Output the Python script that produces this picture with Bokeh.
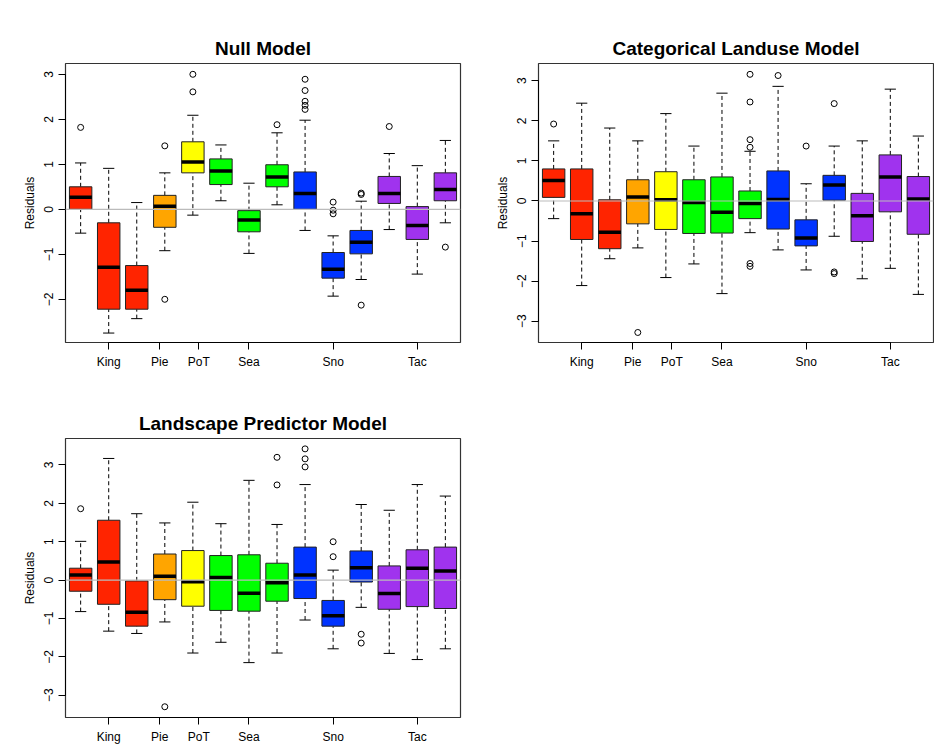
from bokeh.plotting import figure
from bokeh.layouts import gridplot
from bokeh.models import Span, FixedTicker
from bokeh.embed import file_html
from bokeh.resources import INLINE

# box colours, one per box (14 boxes)
box_colors = ["#FF2400"] * 3 + ["#FFA500", "#FFFF00"] + ["#00FF00"] * 3 + ["#0033FF"] * 3 + ["#A033EE"] * 3
tick_pos = [2, 3.82, 5.21, 7, 10, 13]
tick_names = ["King", "Pie", "PoT", "Sea", "Sno", "Tac"]

# Null Model
null_low = [-0.53, -2.75, -2.43, -0.92, -0.13, 0.19, -0.98, 0.10, -0.47, -1.93, -1.56, -0.45, -1.44, -0.30]
null_q1 = [0.00, -2.22, -2.22, -0.40, 0.81, 0.55, -0.50, 0.50, 0.00, -1.53, -0.99, 0.13, -0.67, 0.19]
null_med = [0.27, -1.29, -1.80, 0.07, 1.05, 0.85, -0.24, 0.72, 0.35, -1.33, -0.73, 0.35, -0.36, 0.44]
null_q3 = [0.50, -0.30, -1.25, 0.31, 1.50, 1.12, -0.03, 0.99, 0.83, -0.96, -0.47, 0.73, 0.06, 0.81]
null_high = [1.03, 0.91, 0.15, 0.81, 2.09, 1.43, 0.58, 1.70, 1.98, -0.59, 0.18, 1.24, 0.97, 1.53]
null_out = [[1.82], [], [], [1.41, -2.0], [3.0, 2.61], [], [], [1.88],
            [2.89, 2.64, 2.4, 2.31, 2.22], [0.16, -0.02, -0.1], [0.36, 0.33, -2.13], [1.84], [], [-0.84]]

# Categorical Landuse Model
cat_low = [-0.44, -2.11, -1.44, -1.17, -1.91, -1.57, -2.31, -0.79, -1.22, -1.72, -0.88, -1.94, -1.68, -2.33]
cat_q1 = [0.09, -0.96, -1.19, -0.57, -0.71, -0.81, -0.80, -0.44, -0.70, -1.12, 0.02, -1.01, -0.27, -0.83]
cat_med = [0.51, -0.32, -0.78, 0.10, 0.03, -0.04, -0.28, -0.06, 0.04, -0.92, 0.40, -0.37, 0.60, 0.05]
cat_q3 = [0.80, 0.80, 0.03, 0.53, 0.73, 0.53, 0.60, 0.25, 0.75, -0.47, 0.64, 0.19, 1.15, 0.61]
cat_high = [1.50, 2.44, 1.82, 1.50, 2.18, 1.37, 2.69, 1.24, 2.86, 0.43, 1.37, 1.50, 2.79, 1.62]
cat_out = [[1.92], [], [], [-3.28], [], [], [], [3.16, 2.47, 1.53, 1.34, -1.56, -1.63],
           [3.13], [1.37], [2.43, -1.77, -1.81], [], [], []]

# Landscape Predictor Model
land_low = [-0.82, -1.33, -1.39, -1.09, -1.90, -1.62, -2.15, -1.90, -1.04, -1.79, -0.71, -1.91, -2.07, -1.79]
land_q1 = [-0.29, -0.63, -1.20, -0.51, -0.68, -0.79, -0.81, -0.55, -0.48, -1.20, -0.05, -0.76, -0.69, -0.74]
land_med = [0.13, 0.47, -0.84, 0.10, -0.04, 0.07, -0.34, -0.07, 0.13, -0.93, 0.32, -0.35, 0.31, 0.24]
land_q3 = [0.31, 1.56, -0.02, 0.68, 0.77, 0.64, 0.66, 0.44, 0.86, -0.53, 0.76, 0.37, 0.79, 0.86]
land_high = [1.01, 3.17, 1.73, 1.49, 2.03, 1.47, 2.60, 1.45, 2.49, 0.26, 1.97, 1.82, 2.49, 2.19]
land_out = [[1.86], [], [], [-3.30], [], [], [], [3.20, 2.48], [3.42, 3.16, 2.95], [1.00, 0.61],
            [-1.41, -1.64], [], [], []]

FONT = "Liberation Sans"


def box_panel(title, low, q1, med, q3, high, outs, yr, yticks, left, right, top, bottom, frame_h):
    p = figure(width=left + right + 395, height=top + bottom + frame_h, x_range=(0.46, 14.54), y_range=yr,
               output_backend="svg", toolbar_location=None, title=title,
               min_border_left=left, min_border_right=right, min_border_top=top, min_border_bottom=bottom)
    p.title.align = "center"
    p.title.text_font = FONT
    p.title.text_font_size = "19px"
    p.title.text_font_style = "bold"
    p.title.text_color = "black"
    p.xgrid.visible = False
    p.ygrid.visible = False
    p.outline_line_color = "#333333"
    p.outline_line_width = 1.2

    xs = list(range(1, 15))
    p.add_layout(Span(location=0, dimension="width", line_color="#BBBBBB", line_width=1.2))
    # whiskers
    p.segment(xs, q3, xs, high, line_color="black", line_dash="4 3", line_width=1)
    p.segment(xs, low, xs, q1, line_color="black", line_dash="4 3", line_width=1)
    p.segment([x - 0.2 for x in xs], high, [x + 0.2 for x in xs], high, line_color="black", line_width=1)
    p.segment([x - 0.2 for x in xs], low, [x + 0.2 for x in xs], low, line_color="black", line_width=1)
    # boxes
    p.quad(left=[x - 0.4 for x in xs], right=[x + 0.4 for x in xs], bottom=q1, top=q3,
           fill_color=box_colors, line_color="#222222", line_width=1)
    p.segment([x - 0.4 for x in xs], med, [x + 0.4 for x in xs], med, line_color="black", line_width=3.5)
    ox, oy = [], []
    for x, vals in zip(xs, outs):
        for v in vals:
            ox.append(x)
            oy.append(v)
    p.scatter(ox, oy, size=6, fill_color=None, line_color="black", line_width=1)

    p.xaxis.ticker = FixedTicker(ticks=tick_pos)
    p.xaxis.major_label_overrides = {t: n for t, n in zip(tick_pos, tick_names)}
    p.xaxis.bounds = (2, 13)
    p.yaxis.ticker = FixedTicker(ticks=yticks)
    p.yaxis.bounds = (yticks[0], yticks[-1])
    p.yaxis.axis_label = "Residuals"
    for ax in (p.xaxis, p.yaxis):
        ax.minor_tick_line_color = None
        ax.major_tick_out = 7
        ax.major_tick_in = 0
        ax.axis_line_color = "black"
        ax.major_tick_line_color = "black"
        ax.major_label_text_font = FONT
        ax.major_label_text_font_size = "12px"
        ax.major_label_text_color = "black"
        ax.axis_label_text_font = FONT
        ax.axis_label_text_font_size = "12px"
        ax.axis_label_text_font_style = "normal"
        ax.axis_label_text_color = "black"
    p.yaxis.major_label_orientation = "vertical"
    return p


p1 = box_panel("Null Model", null_low, null_q1, null_med, null_q3, null_high, null_out,
               (-2.96, 3.24), [-2, -1, 0, 1, 2, 3], 65, 7, 63, 36, 279)
p2 = box_panel("Categorical Landuse Model", cat_low, cat_q1, cat_med, cat_q3, cat_high, cat_out,
               (-3.53, 3.43), [-3, -2, -1, 0, 1, 2, 3], 71, 1, 63, 36, 279)
p3 = box_panel("Landscape Predictor Model", land_low, land_q1, land_med, land_q3, land_high, land_out,
               (-3.58, 3.69), [-3, -2, -1, 0, 1, 2, 3], 65, 7, 60, 28, 280)

grid = gridplot([[p1, p2], [p3, None]], toolbar_location=None)
open("out.html", "w").write(file_html(grid, INLINE))
